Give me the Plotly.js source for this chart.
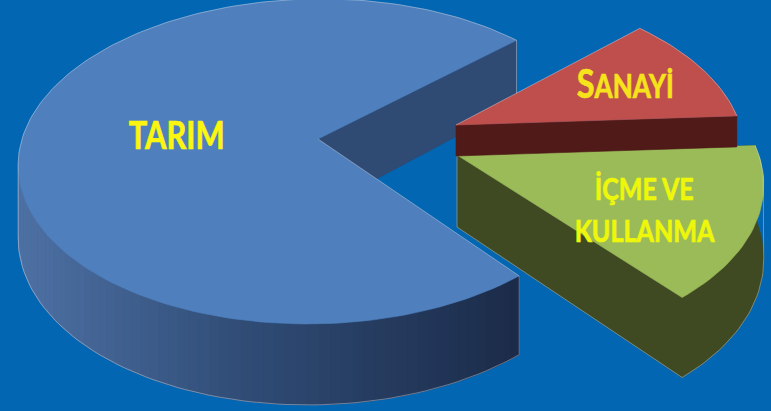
<!DOCTYPE html>
<html>
<head>
<meta charset="utf-8">
<script src="https://cdn.plot.ly/plotly-3.0.1.min.js"></script>
<style>html,body{margin:0;padding:0;background:#0366b2}</style>
</head>
<body>
<div id="chart" style="width:771px;height:411px"></div>
<script>
// Water use by sector, drawn as an exploded 3D pie
const categories = ['TARIM', 'İÇME VE KULLANMA', 'SANAYİ'];
const shares = [74, 15, 11];
const startAngle = 43;

// Rendering parameters
const W = 771, H = 411;
const background = '#0366b2';
const persp = 0.138, scaleX = 293, scaleY = 159.4;
const edge = 'rgba(255,255,255,0.38)';
const geometry = [
  {ax: 318, ay: 139, r: 1.0,  d0: 71, d1: 10, skew: -0.04, side: 0.01, top: '#4f7fbc', wall: '#2f4a73'},
  {ax: 457, ay: 155, r: 1.03, d0: 72, d1: 10, skew: 0.07,  side: 0,    top: '#9bbb59', wall: '#3f4a22'},
  {ax: 456, ay: 125, r: 0.97, d0: 31, d1: 0,  skew: 0.07,  side: 0,    top: '#bf4f4c', wall: '#4f1a18'}
];
const wallStops = [[0, [78, 113, 164]], [0.45, [48, 76, 118]], [1, [27, 43, 72]]];

function point(g, deg, radius, down) {
  const t = deg * Math.PI / 180;
  const u = radius * Math.cos(t), v = radius * Math.sin(t);
  const w = 1 + persp * v + g.side * u;
  const yTop = g.ay - scaleY * v / w;
  const x = g.ax + scaleX * u / w + g.skew * (yTop - g.ay);
  return [x, yTop + (down ? g.d0 - g.d1 * v : 0)];
}
function arc(g, from, to, down) {
  const n = Math.max(2, Math.ceil(Math.abs(to - from) / 1.5));
  const out = [];
  for (let i = 0; i <= n; i++) out.push(point(g, from + (to - from) * i / n, g.r, down));
  return out;
}
function poly(pts, color, width) {
  return {
    type: 'scatter', mode: 'lines', fill: 'toself', fillcolor: color,
    x: pts.map(p => p[0]), y: pts.map(p => p[1]),
    line: {color: color, width: width === undefined ? 0.6 : width},
    hoverinfo: 'skip', showlegend: false
  };
}
function outline(pts) {
  return {
    type: 'scatter', mode: 'lines',
    x: pts.map(p => p[0]), y: pts.map(p => p[1]),
    line: {color: edge, width: 0.9},
    hoverinfo: 'skip', showlegend: false
  };
}
function mix(f) {
  for (let i = 1; i < wallStops.length; i++) {
    if (f <= wallStops[i][0]) {
      const a = wallStops[i - 1], b = wallStops[i];
      const k = (f - a[0]) / (b[0] - a[0]);
      return 'rgb(' + a[1].map((c, j) => Math.round(c + (b[1][j] - c) * k)).join(',') + ')';
    }
  }
  return 'rgb(' + wallStops[wallStops.length - 1][1].join(',') + ')';
}

// Slice spans, counter-clockwise from the start angle
const spans = [];
let cursor = startAngle;
shares.forEach(s => { spans.push([cursor, cursor + s * 3.6]); cursor += s * 3.6; });

const traces = [];

// Largest slice: inner cut wall, shaded outer wall, top face, rim highlight
(function () {
  const g = geometry[0], [a0, a1] = spans[0];
  const apex = point(g, 0, 0, false), apexLow = point(g, 0, 0, true);
  traces.push(poly([apex, point(g, a0, g.r, false), point(g, a0, g.r, true), apexLow], g.wall));
  const from = 188, steps = 64;
  const x0 = point(g, from, g.r, false)[0], x1 = point(g, a1, g.r, false)[0];
  for (let i = 0; i < steps; i++) {
    const a = from + (a1 - from) * i / steps, b = from + (a1 - from) * (i + 1) / steps;
    const top = arc(g, a, b, false), low = arc(g, b, a, true);
    const xm = (top[0][0] + top[top.length - 1][0]) / 2;
    traces.push(poly(top.concat(low), mix((xm - x0) / (x1 - x0)), 1));
  }
  traces.push(poly([apex].concat(arc(g, a0, a1, false)), g.top));
  traces.push(outline([point(g, a0, g.r, true), point(g, a0, g.r, false)]
    .concat(arc(g, a0, from, false), arc(g, from, a1, true), [point(g, a1, g.r, false)], [apex])));
})();

// Middle slice: single-tone wall, then face
(function () {
  const g = geometry[1], [a0, a1] = spans[1];
  const apex = point(g, 0, 0, false), apexLow = point(g, 0, 0, true);
  traces.push(poly([apex, apexLow].concat(arc(g, a0, a1, true), arc(g, a1, a0, false).slice(0, 1)), g.wall));
  traces.push(poly([apex].concat(arc(g, a0, a1, false)), g.top));
  traces.push(outline([apex, apexLow].concat(arc(g, a0, a1 - 12, true), arc(g, a1 - 12, a1, false))));
})();

// Small slice: front wall, then face
(function () {
  const g = geometry[2], [a0, a1] = spans[2];
  const apex = point(g, 0, 0, false), apexLow = point(g, 0, 0, true);
  traces.push(poly([apex, apexLow, point(g, a0, g.r, true), point(g, a0, g.r, false)], g.wall));
  traces.push(poly([apex].concat(arc(g, a0, a1, false)), g.top));
  traces.push(outline(arc(g, a0, a1, false).concat([apex])));
})();

const labelFont = {family: 'Lato, "Open Sans", sans-serif', color: '#fbf50f'};
// Labels are narrowed horizontally to their drawn width after layout
const labelWidths = [96, 97, 99, 140];
const annotations = [
  {x: 176, y: 134, text: '<b>' + categories[0] + '</b>', font: Object.assign({}, labelFont, {size: 39})},
  {x: 625, y: 82, text: '<b><span style="font-size:41px">' + categories[2].charAt(0) + '</span>' + categories[2].slice(1) + '</b>',
   font: Object.assign({}, labelFont, {size: 33, color: '#f6e31c'})},
  {x: 644, y: 188, text: '<b>İÇME VE</b>', font: Object.assign({}, labelFont, {size: 31, color: '#eef70a'})},
  {x: 644, y: 230, text: '<b>KULLANMA</b>', font: Object.assign({}, labelFont, {size: 30, color: '#eef70a'})}
].map(a => Object.assign(a, {xref: 'x', yref: 'y', showarrow: false, xanchor: 'center', yanchor: 'middle'}));

const layout = {
  width: W, height: H,
  margin: {l: 0, r: 0, t: 0, b: 0},
  paper_bgcolor: background, plot_bgcolor: background,
  xaxis: {range: [0, W], visible: false, fixedrange: true},
  yaxis: {range: [H, 0], visible: false, fixedrange: true},
  annotations: annotations,
  showlegend: false
};
Plotly.newPlot('chart', traces, layout, {displayModeBar: false, staticPlot: true}).then(gd => {
  gd.querySelectorAll('.annotation-text').forEach((el, i) => {
    const box = el.getBBox();
    const cx = box.x + box.width / 2;
    const sx = labelWidths[i] / box.width;
    el.setAttribute('transform', 'translate(' + cx + ',0) scale(' + sx + ',1) translate(' + (-cx) + ',0)');
    el.style.stroke = annotations[i].font.color;
    el.style.strokeWidth = '0.7px';
  });
});
</script>
</body>
</html>
